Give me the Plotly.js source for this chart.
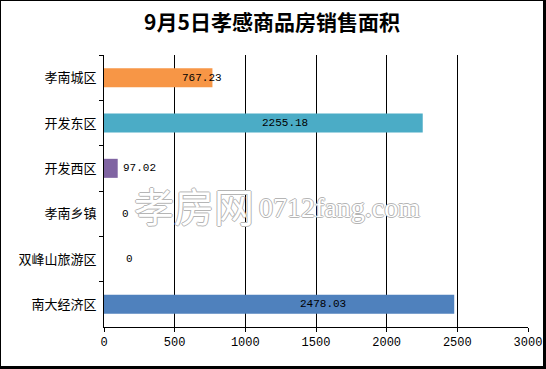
<!DOCTYPE html>
<html><head><meta charset="utf-8">
<script src="https://cdn.plot.ly/plotly-3.0.1.min.js"></script>
<style>
html,body{margin:0;padding:0;background:#fff;}
#wrap{width:546px;height:369px;box-sizing:border-box;border-left:1px solid #000;border-top:1px solid #000;border-right:3px solid #000;border-bottom:3px solid #000;overflow:hidden;}
#chart{width:542px;height:365px;}
</style></head>
<body><div id="wrap"><div id="chart"></div></div>
<script>
const categories = ["孝南城区", "开发东区", "开发西区", "孝南乡镇", "双峰山旅游区", "南大经济区"];
const values = [767.23, 2255.18, 97.02, 0, 0, 2478.03];
const valueLabels = ["767.23", "2255.18", "97.02", "0", "0", "2478.03"];
const xTicks = [0, 500, 1000, 1500, 2000, 2500, 3000];

const barColors = ["#F79646", "#4BACC6", "#8064A2", "#4F81BD", "#4F81BD", "#4F81BD"];
const labelShift = [-10, -138, 22, 21, 25, -131];

const numFont = {family: "Liberation Mono, DejaVu Sans Mono, monospace", size: 11, color: "#000"};
const outline = "1px 0 0 #b5b5b5, -1px 0 0 #b5b5b5, 0 1px 0 #b5b5b5, 0 -1px 0 #b5b5b5";

const annotations = [];
annotations.push({
  xref: "paper", yref: "paper", x: 0.066, y: 0.45, xanchor: "left", yanchor: "middle",
  text: "孝房网", showarrow: false,
  font: {family: "Noto Sans CJK SC", size: 40, color: "#fff", shadow: outline}
});
annotations.push({
  xref: "paper", yref: "paper", x: 0.362, y: 0.44, xanchor: "left", yanchor: "middle",
  text: "0712fang.com", showarrow: false,
  font: {family: "Liberation Serif, DejaVu Serif, serif", size: 28, color: "#fff", shadow: outline}
});
categories.forEach((c, i) => annotations.push({
  x: values[i], y: c, xref: "x", yref: "y",
  text: valueLabels[i], showarrow: false, xanchor: "center", yanchor: "middle",
  xshift: labelShift[i], font: numFont
}));

const trace = {
  type: "bar", orientation: "h",
  x: values, y: categories,
  marker: {color: barColors, line: {width: 0}},
  hoverinfo: "none"
};

const layout = {
  width: 542, height: 365,
  margin: {l: 103, r: 15, t: 54, b: 39},
  paper_bgcolor: "#fff", plot_bgcolor: "#fff",
  showlegend: false,
  bargap: 0.58,
  title: {text: "<b>9月5日孝感商品房销售面积</b>", x: 0.5, xanchor: "center", y: 0.94, yanchor: "middle",
          font: {family: "Noto Sans CJK SC", size: 21, color: "#000"}},
  xaxis: {
    range: [0, 3000], tickvals: xTicks, ticktext: xTicks.map(String),
    showgrid: true, gridcolor: "#000", gridwidth: 1, zeroline: false,
    showline: true, linecolor: "#000", linewidth: 1,
    ticks: "outside", ticklen: 4, tickcolor: "#000",
    tickfont: {family: "Liberation Mono, DejaVu Sans Mono, monospace", size: 12, color: "#000"},
    fixedrange: true
  },
  yaxis: {
    type: "category", autorange: "reversed",
    showgrid: false, zeroline: false,
    showline: true, linecolor: "#000", linewidth: 1,
    ticks: "outside", ticklen: 4, tickcolor: "#000", tickson: "boundaries",
    tickfont: {family: "Noto Sans CJK SC", size: 13, color: "#000"},
    ticklabelstandoff: 4,
    fixedrange: true
  },
  annotations: annotations
};

Plotly.newPlot("chart", [trace], layout, {displayModeBar: false, staticPlot: true});
</script></body></html>
